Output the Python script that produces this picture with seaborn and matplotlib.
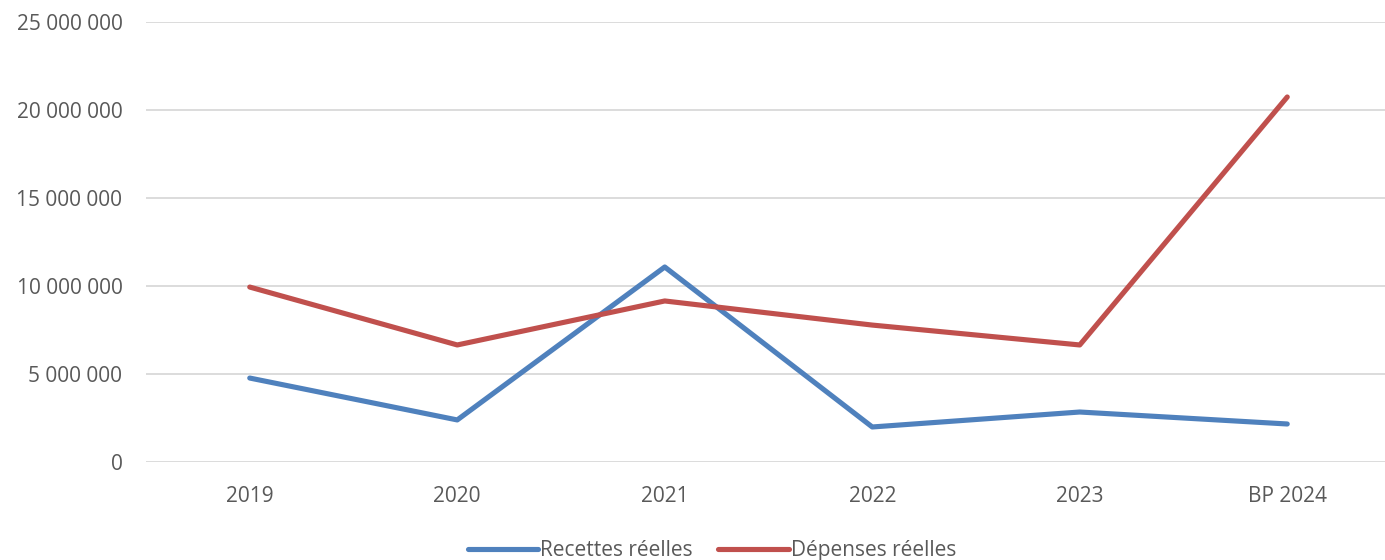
import matplotlib
matplotlib.use("Agg")
import matplotlib.pyplot as plt
import matplotlib.ticker as mticker
import seaborn as sns
import pandas as pd

years = ["2019", "2020", "2021", "2022", "2023", "BP 2024"]
recettes = [4770000, 2390000, 11080000, 1990000, 2840000, 2160000]
depenses = [9940000, 6650000, 9150000, 7780000, 6650000, 20740000]
series_names = ["Recettes réelles", "Dépenses réelles"]
y_ticks = [0, 5000000, 10000000, 15000000, 20000000, 25000000]

df = pd.DataFrame({
    "annee": years * 2,
    "pos": list(range(len(years))) * 2,
    "montant": recettes + depenses,
    "serie": [series_names[0]] * len(years) + [series_names[1]] * len(years),
})

sns.set_theme(style="white")
plt.rcParams["font.family"] = ["Open Sans", "DejaVu Sans"]
text_color = "#595959"

fig = plt.figure(figsize=(13.85, 5.6), dpi=100)
ax = fig.add_axes([146 / 1385, 1 - 462 / 560, 1245 / 1385, 440 / 560])

sns.lineplot(
    data=df, x="pos", y="montant", hue="serie", sort=False,
    palette=["#4F81BD", "#C0504D"], linewidth=3.7, ax=ax,
    solid_capstyle="round", solid_joinstyle="round",
)

ax.set_xlim(-0.5, len(years) - 0.5)
ax.set_ylim(0, 25000000)
ax.set_xticks(range(len(years)))
ax.set_xticklabels(years)
ax.set_yticks(y_ticks)
ax.yaxis.set_major_formatter(
    mticker.FuncFormatter(lambda v, _: f"{int(v):,}".replace(",", " "))
)
ax.grid(axis="y", color="#D9D9D9", linewidth=1.3)
ax.set_axisbelow(True)
for s in ax.spines.values():
    s.set_visible(False)
ax.tick_params(axis="both", length=0, labelsize=15, labelcolor=text_color)
ax.tick_params(axis="y", pad=17)
ax.tick_params(axis="x", pad=17)
ax.set_xlabel("")
ax.set_ylabel("")

handles, labels = ax.get_legend_handles_labels()
ax.legend(
    handles, labels, loc="lower center", bbox_to_anchor=((712 - 146) / 1245, -0.245),
    ncol=2, frameon=False, fontsize=15, labelcolor=text_color,
    handlelength=3.4, handletextpad=0.1, columnspacing=1.2, borderaxespad=0,
)

fig.savefig("out.png", dpi=100)
